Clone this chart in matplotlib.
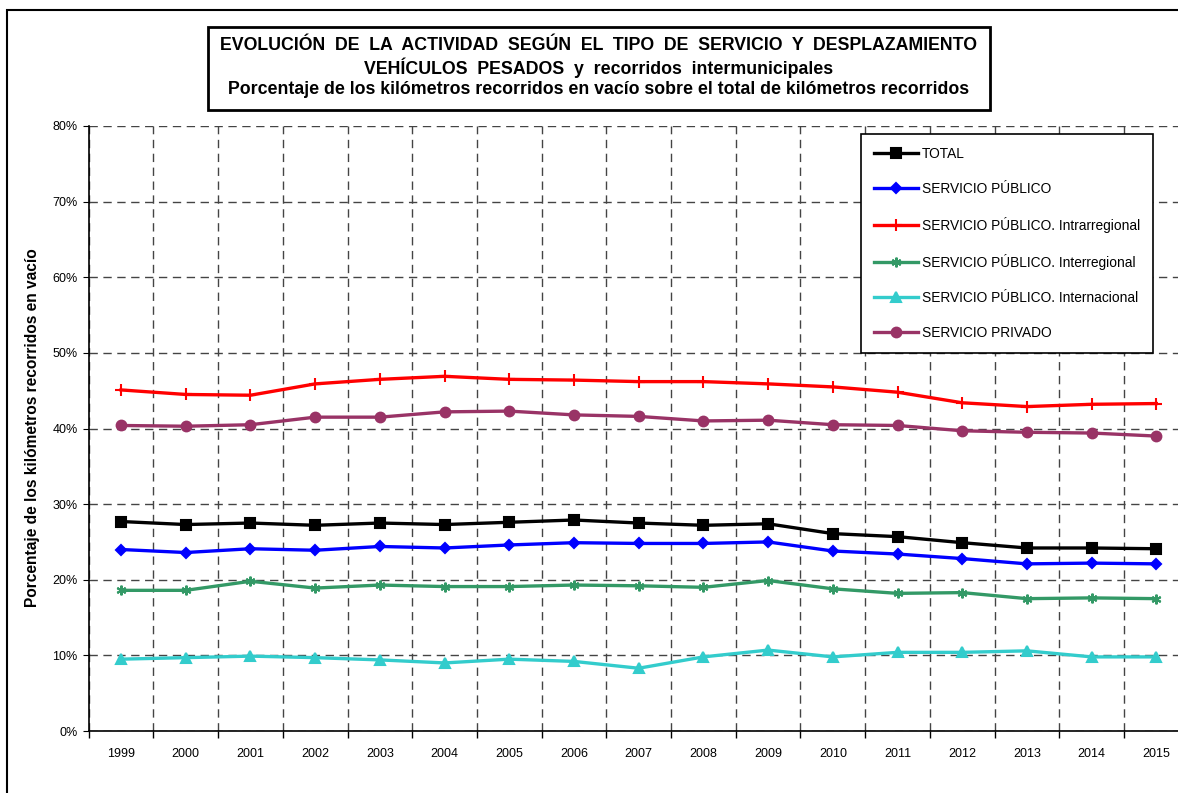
import numpy as np
import matplotlib
matplotlib.use("Agg")
import matplotlib.pyplot as plt
from matplotlib.patches import Rectangle
from matplotlib.ticker import FuncFormatter

plt.rcParams['font.family'] = ['Liberation Sans', 'DejaVu Sans']

years = ['1999', '2000', '2001', '2002', '2003', '2004', '2005', '2006', '2007',
         '2008', '2009', '2010', '2011', '2012', '2013', '2014', '2015']

total = [27.7, 27.3, 27.5, 27.2, 27.5, 27.3, 27.6, 27.9, 27.5,
         27.2, 27.4, 26.1, 25.7, 24.9, 24.2, 24.2, 24.1]
publico = [24.0, 23.6, 24.1, 23.9, 24.4, 24.2, 24.6, 24.9, 24.8,
           24.8, 25.0, 23.8, 23.4, 22.8, 22.1, 22.2, 22.1]
intrarregional = [45.1, 44.5, 44.4, 45.9, 46.5, 46.9, 46.5, 46.4, 46.2,
                  46.2, 45.9, 45.5, 44.8, 43.4, 42.9, 43.2, 43.3]
interregional = [18.6, 18.6, 19.8, 18.9, 19.3, 19.1, 19.1, 19.3, 19.2,
                 19.0, 19.9, 18.8, 18.2, 18.3, 17.5, 17.6, 17.5]
internacional = [9.5, 9.7, 9.9, 9.7, 9.4, 9.0, 9.5, 9.2, 8.3,
                 9.8, 10.7, 9.8, 10.4, 10.4, 10.6, 9.8, 9.8]
privado = [40.4, 40.3, 40.5, 41.5, 41.5, 42.2, 42.3, 41.8, 41.6,
           41.0, 41.1, 40.5, 40.4, 39.7, 39.5, 39.4, 39.0]

labels = ['TOTAL', 'SERVICIO PÚBLICO', 'SERVICIO PÚBLICO. Intrarregional',
          'SERVICIO PÚBLICO. Interregional', 'SERVICIO PÚBLICO. Internacional',
          'SERVICIO PRIVADO']
series = [total, publico, intrarregional, interregional, internacional, privado]
colors = ['#000000', '#0000FF', '#FF0000', '#339966', '#33CCCC', '#993366']
markers = ['s', 'D', '+', (6, 2, 0), '^', 'o']
msizes = [7, 5, 8, 7, 7, 7]

W, H = 1178, 793
fig = plt.figure(figsize=(W / 100, H / 100), dpi=100)

# outer chart-area border (runs off the right and bottom)
fig.patches.append(Rectangle((7 / W, -0.1), 2, 1.1 - 10 / H, transform=fig.transFigure,
                             fill=False, edgecolor='black', linewidth=1.5))

ax = fig.add_axes([88.7 / W, 62 / H, 1100 / W, 605 / H])
x = np.arange(len(years))
for vals, lab, c, m, ms in zip(series, labels, colors, markers, msizes):
    ax.plot(x, vals, color=c, lw=2.4, marker=m, ms=ms, mew=1.5,
            mec=c, mfc=c, label=lab, zorder=3)

ax.set_xlim(-0.5, len(years) - 0.5)
ax.set_ylim(0, 80)
ax.set_yticks(np.arange(0, 81, 10))
ax.yaxis.set_major_formatter(FuncFormatter(lambda v, p: f'{v:.0f}%'))
ax.set_xticks(x)
ax.set_xticklabels(years)
ax.set_xticks(np.arange(-0.5, len(years), 1), minor=True)
ax.tick_params(axis='x', which='major', length=0, pad=12, labelsize=9)
ax.tick_params(axis='x', which='minor', length=5, direction='out', width=1)
ax.tick_params(axis='y', length=4, direction='out', labelsize=9, pad=4)
ax.grid(axis='y', which='major', color='#444444', ls=(0, (6, 4)), lw=1)
ax.grid(axis='x', which='minor', color='#444444', ls=(0, (6, 4)), lw=1)
ax.set_axisbelow(True)
for s in ['top', 'right']:
    ax.spines[s].set_visible(False)
ax.spines['left'].set_linewidth(1.2)
ax.spines['bottom'].set_linewidth(1.2)

fig.text(33 / W, 1 - 428 / H, 'Porcentaje de los kilómetros recorridos en vacío',
         rotation=90, ha='center', va='center', fontsize=11.2, fontweight='bold')

leg = ax.legend(loc='upper left', bbox_to_anchor=(861 / W, 1 - 134 / H),
                bbox_transform=fig.transFigure, borderaxespad=0, fontsize=9.9,
                frameon=True, fancybox=False, edgecolor='black', framealpha=1,
                labelspacing=1.52, handlelength=3.2, handletextpad=0.25,
                borderpad=0.95)
leg.get_frame().set_linewidth(1.2)
leg.set_zorder(5)

# title box
fig.patches.append(Rectangle((208 / W, 1 - 110 / H), 782 / W, 83 / H,
                             transform=fig.transFigure, fill=False,
                             edgecolor='black', linewidth=2))
tfam = ['Liberation Sans Narrow', 'Liberation Sans', 'DejaVu Sans']
title_lines = ['EVOLUCIÓN  DE  LA  ACTIVIDAD  SEGÚN  EL  TIPO  DE  SERVICIO  Y  DESPLAZAMIENTO',
               'VEHÍCULOS  PESADOS  y  recorridos  intermunicipales',
               'Porcentaje de los kilómetros recorridos en vacío sobre el total de kilómetros recorridos']
for line, yy in zip(title_lines, [45, 68, 90]):
    fig.text(599 / W, 1 - yy / H, line, ha='center', va='center', fontsize=12.8,
             fontweight='bold', family=tfam)

fig.savefig('out.png', dpi=100)
